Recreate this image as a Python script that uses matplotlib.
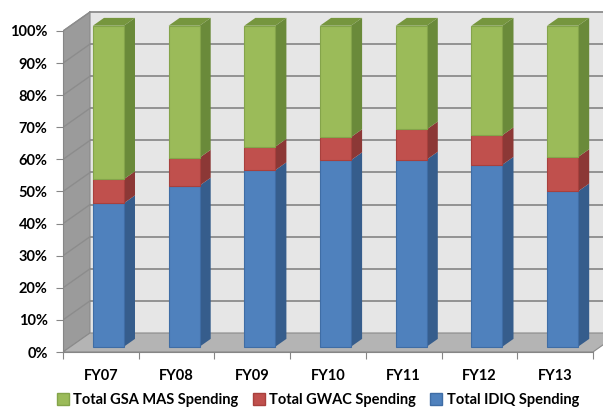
import matplotlib
matplotlib.use('Agg')
import matplotlib.pyplot as plt
from matplotlib.patches import Polygon, Patch
import numpy as np

# Shares of spending (%)
years = ['FY07', 'FY08', 'FY09', 'FY10', 'FY11', 'FY12', 'FY13']
idiq = [44.7, 50.2, 55.0, 58.1, 58.3, 56.7, 48.4]
gwac = [7.5, 8.7, 7.3, 7.2, 9.4, 9.2, 10.7]
mas = [100 - a - b for a, b in zip(idiq, gwac)]

series = [('Total IDIQ Spending', idiq), ('Total GWAC Spending', gwac), ('Total GSA MAS Spending', mas)]
front = {'Total IDIQ Spending': '#4F81BD', 'Total GWAC Spending': '#C0504D', 'Total GSA MAS Spending': '#9BBB59'}
side = {'Total IDIQ Spending': '#365D8C', 'Total GWAC Spending': '#8C3836', 'Total GSA MAS Spending': '#6A8A3A'}
edge = {'Total IDIQ Spending': '#3F6DA5', 'Total GWAC Spending': '#A8403D', 'Total GSA MAS Spending': '#84A44A'}
top_col = '#76963E'

plt.rcParams['font.family'] = ['Lato', 'DejaVu Sans']
plt.rcParams['font.weight'] = 'bold'

fig = plt.figure(figsize=(6.03, 4.09), dpi=100)
W, H = 603, 409
px_x = 75.7   # pixels per category
px_y = 3.21   # pixels per percent
ax = fig.add_axes([63 / W, (H - 352) / H, 540 / W, 342 / H])
xmax = 540 / px_x
ax.set_xlim(0, xmax)
ax.set_ylim(0, 342 / px_y)

# depth of the 3D box, in data units
DX = 27 / px_x
DY = 19 / px_y
n = len(years)

# walls and floor
ax.add_patch(Polygon([(DX, DY), (xmax + 1, DY), (xmax + 1, 100 + DY), (DX, 100 + DY)],
                     closed=True, facecolor='#E6E6E6', edgecolor='none', zorder=0))
ax.add_patch(Polygon([(0, 0), (0, 100), (DX, 100 + DY), (DX, DY)],
                     closed=True, facecolor='#9B9B9B', edgecolor='#8A8A8A', lw=0.8, zorder=1))
ax.add_patch(Polygon([(0, 0), (n, 0), (n + DX, DY), (DX, DY)],
                     closed=True, facecolor='#B4B4B4', edgecolor='#8A8A8A', lw=0.8, zorder=1))

for v in range(10, 101, 10):
    ax.plot([DX, xmax + 1], [v + DY, v + DY], color='#8C8C8C', lw=1.3, zorder=0.5)
    ax.plot([0, DX], [v, v + DY], color='#8C8C8C', lw=1.0, zorder=1.5)

# bars
f0 = 0.28
bd = 0.41
bw = 0.41
x = np.arange(n) + 0.5 + f0 * DX
base = f0 * DY
bottom = np.zeros(n)
ddx, ddy = bd * DX, bd * DY
for name, vals in series:
    vals = np.array(vals)
    ax.bar(x, vals, bw, bottom=bottom + base, color=front[name], edgecolor=edge[name],
           lw=0.8, zorder=3)
    for xi, b0, v in zip(x, bottom + base, vals):
        xr = xi + bw / 2
        ax.add_patch(Polygon([(xr, b0), (xr + ddx, b0 + ddy), (xr + ddx, b0 + v + ddy), (xr, b0 + v)],
                             closed=True, facecolor=side[name], edgecolor='none', zorder=2.9))
    bottom = bottom + vals

for xi, t in zip(x, bottom + base):
    xl, xr = xi - bw / 2, xi + bw / 2
    ax.add_patch(Polygon([(xl, t), (xr, t), (xr + ddx, t + ddy), (xl + ddx, t + ddy)],
                         closed=True, facecolor=top_col, edgecolor='none', zorder=2.9))

# axes styling
for s in ['top', 'right']:
    ax.spines[s].set_visible(False)
ax.spines['left'].set_bounds(0, 100)
ax.spines['bottom'].set_bounds(0, n)
ax.spines['left'].set_color('#868686')
ax.spines['bottom'].set_color('#868686')
ax.spines['left'].set_zorder(4)
ax.spines['bottom'].set_zorder(4)

ax.set_yticks(range(0, 101, 10))
ax.set_yticklabels([f'{v}%' for v in range(0, 101, 10)], fontsize=10.5, fontweight='bold')
ax.tick_params(axis='y', length=5, color='#868686', pad=6)

ax.set_xticks(range(0, n + 1))
ax.set_xticklabels([])
ax.set_xticks(np.arange(n) + 0.5, minor=True)
ax.set_xticklabels(years, minor=True, fontsize=10.5, fontweight='bold')
ax.tick_params(axis='x', which='major', length=5, color='#868686')
ax.tick_params(axis='x', which='minor', length=0, pad=12)

handles = [Patch(facecolor=front[k], edgecolor=edge[k]) for k, _ in series[::-1]]
labels = [k for k, _ in series[::-1]]
fig.legend(handles, labels, loc='center', bbox_to_anchor=(318 / W, 1 - 400 / H), ncol=3,
           frameon=False, fontsize=10.5, handlelength=0.8, handleheight=0.8,
           handletextpad=0.3, columnspacing=1.0, prop={'weight': 'bold', 'size': 10.5})

fig.savefig('out.png', dpi=100)
